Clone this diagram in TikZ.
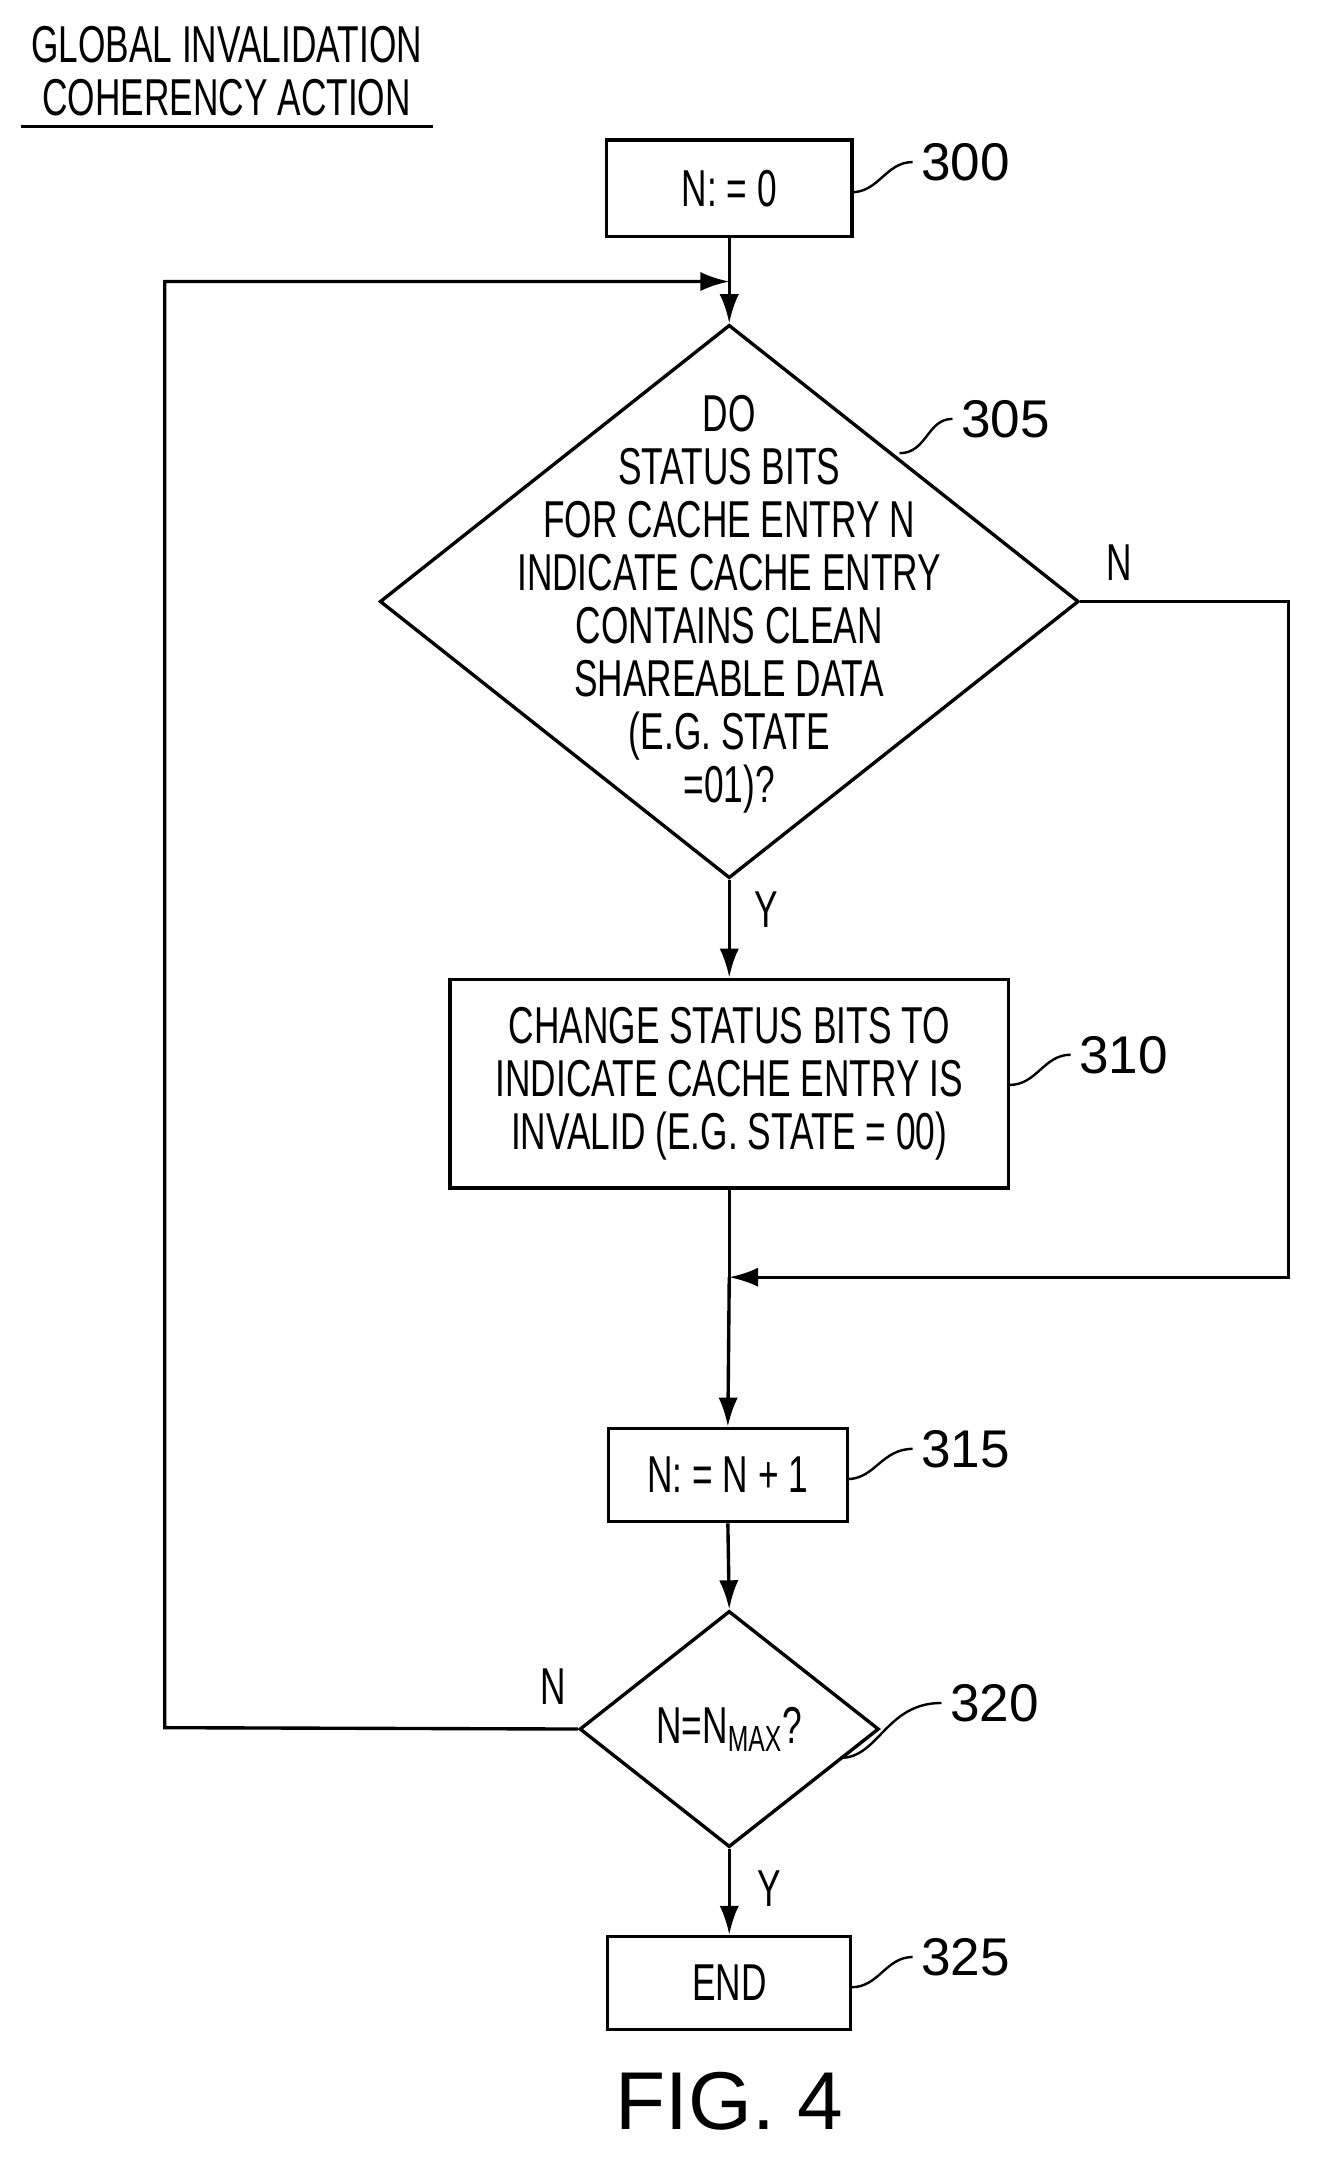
\documentclass[tikz,border=0pt]{standalone}
\usepackage{fontspec}
\setmainfont[FakeStretch=0.68]{Liberation Sans}
\newfontfamily\figfont{Liberation Sans}
\usetikzlibrary{shapes.geometric}
\usetikzlibrary{arrows.meta}

\tikzset{
  box/.style={draw, line width=1.4pt, inner sep=0pt},
  dia/.style={draw, diamond, line width=1.4pt, inner sep=0pt, aspect=1},
  txt/.style={font=\fontsize{21.5}{22}\selectfont, align=center},
  ref/.style={font=\fontsize{22}{24}\selectfont\figfont},
  link/.style={line width=1.4pt, -{Latex[length=12pt,width=8pt]}},
  wire/.style={line width=1.4pt},
  lead/.style={line width=1pt}
}

\begin{document}
\begin{tikzpicture}[x=0.02cm,y=-0.02cm]
\useasboundingbox (0,0) rectangle (960,1575);

% title
\node[txt] (title) at (165,52) {GLOBAL INVALIDATION\\COHERENCY ACTION};
\draw[line width=1pt] (15,92) -- (315,92);

% boxes
\node[box, minimum width=3.58cm, minimum height=1.4cm] (s300) at (531,137) {};
\node[txt] at (s300) {N: = 0};
\node[dia, minimum width=10.18cm, minimum height=8.06cm] (s305) at (531,438) {};
\node[txt] at (531,440) {DO\\STATUS BITS\\FOR CACHE ENTRY N\\INDICATE CACHE ENTRY\\CONTAINS CLEAN\\SHAREABLE DATA\\(E.G. STATE\\=01)?};
\node[box, minimum width=8.14cm, minimum height=3.04cm] (s310) at (531,789) {};
\node[txt] at (s310) {CHANGE STATUS BITS TO\\INDICATE CACHE ENTRY IS\\INVALID (E.G. STATE = 00)};
\node[box, minimum width=3.48cm, minimum height=1.36cm] (s315) at (530,1074) {};
\node[txt] at (s315) {N: = N + 1};
\node[dia, minimum width=4.36cm, minimum height=3.44cm] (s320) at (531,1259) {};
\node[txt] at (s320) {N=N\textsubscript{MAX}?};
\node[box, minimum width=3.54cm, minimum height=1.36cm] (s325) at (531,1444) {};
\node[txt] at (s325) {END};

% reference labels
\node[ref] (r300) at (703,118) {300};
\node[ref] (r305) at (732,305) {305};
\node[ref] (r310) at (818,768) {310};
\node[ref] (r315) at (703,1055) {315};
\node[ref] (r320) at (724,1240) {320};
\node[ref] (r325) at (703,1425) {325};
\draw[lead] (620,140) .. controls (640,140) and (645,118) .. (r300.west);
\draw[lead] (655,330) .. controls (675,330) and (675,305) .. (r305.west);
\draw[lead] (735,790) .. controls (755,790) and (760,768) .. (r310.west);
\draw[lead] (617,1077) .. controls (637,1077) and (642,1055) .. (r315.west);
\draw[lead] (612,1280) .. controls (640,1280) and (645,1240) .. (r320.west);
\draw[lead] (620,1447) .. controls (640,1447) and (645,1425) .. (r325.west);

% connectors
\coordinate (join) at (531,930);
\coordinate (loop) at (531,205);
\draw[wire] (s300.south) -- (loop);
\draw[link] (loop) -- (s305.north);
\draw[link] (s305.south) -- (s310.north);
\draw[wire] (s310.south) -- (join);
\draw[link] (join) -- (s315.north);
\draw[link] (s305.east) -- (938,438) -- (938,930) -- (join);
\draw[link] (s315.south) -- (s320.north);
\draw[link] (s320.south) -- (s325.north);
\draw[link] (s320.west) -- (120,1258) -- (120,205) -- (loop);

% branch labels
\node[txt] (n305) at (815,410) {N};
\node[txt] (y305) at (558,662) {Y};
\node[txt] (n320) at (403,1228) {N};
\node[txt] (y320) at (560,1375) {Y};

\node[font=\fontsize{34}{36}\selectfont\figfont] (fig) at (531,1530) {FIG. 4};
\end{tikzpicture}
\end{document}
